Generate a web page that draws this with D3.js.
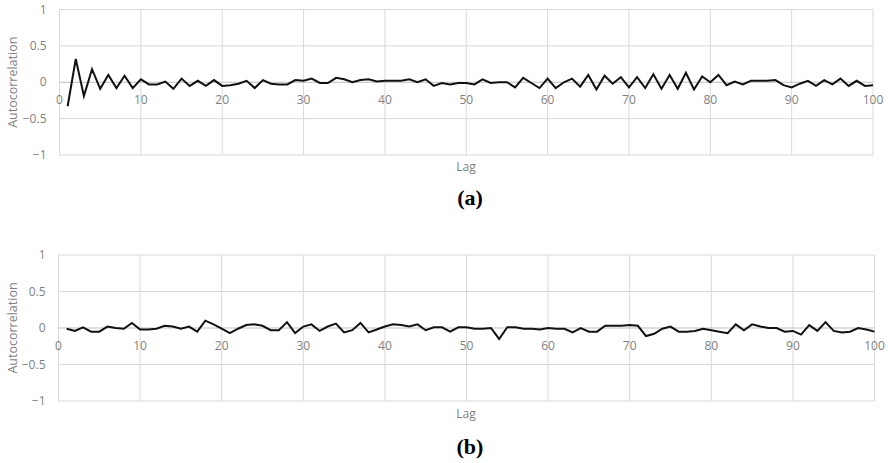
<!DOCTYPE html>
<html><head><meta charset="utf-8">
<script src="https://cdn.jsdelivr.net/npm/d3@7"></script>
<style>body{margin:0;background:#fff}svg{display:block}</style>
</head><body>
<svg id="c" width="888" height="463"></svg>
<script>
const lags = d3.range(1, 101);
const acfA = [-0.33,0.32,-0.19,0.18,-0.09,0.10,-0.08,0.09,-0.08,0.04,
 -0.03,-0.03,0.01,-0.09,0.05,-0.05,0.02,-0.05,0.03,-0.05,
 -0.04,-0.02,0.02,-0.08,0.03,-0.02,-0.03,-0.03,0.03,0.02,
 0.05,-0.01,-0.01,0.06,0.04,0.00,0.03,0.04,0.01,0.02,
 0.02,0.02,0.04,0.00,0.04,-0.05,-0.01,-0.03,-0.01,-0.01,
 -0.03,0.04,-0.01,0.00,0.00,-0.07,0.06,-0.01,-0.08,0.05,
 -0.08,0.00,0.05,-0.06,0.10,-0.10,0.09,-0.02,0.07,-0.07,
 0.07,-0.08,0.11,-0.09,0.10,-0.09,0.13,-0.10,0.08,0.00,
 0.10,-0.04,0.01,-0.03,0.02,0.02,0.02,0.03,-0.04,-0.07,
 -0.02,0.02,-0.05,0.03,-0.03,0.05,-0.05,0.02,-0.05,-0.04];
const acfB = [-0.01,-0.04,0.01,-0.05,-0.05,0.02,0.00,-0.01,0.07,-0.02,
 -0.02,-0.01,0.03,0.02,-0.01,0.02,-0.05,0.10,0.05,-0.01,
 -0.07,-0.01,0.04,0.05,0.03,-0.03,-0.03,0.08,-0.07,0.02,
 0.05,-0.04,0.02,0.06,-0.06,-0.03,0.07,-0.06,-0.02,0.02,
 0.05,0.04,0.02,0.05,-0.03,0.01,0.01,-0.05,0.01,0.01,
 -0.01,-0.01,0.00,-0.15,0.01,0.01,-0.01,-0.01,-0.02,0.00,
 -0.01,-0.01,-0.06,0.00,-0.05,-0.05,0.03,0.03,0.03,0.04,
 0.03,-0.11,-0.08,-0.01,0.02,-0.05,-0.05,-0.04,-0.01,-0.03,
 -0.05,-0.07,0.05,-0.03,0.05,0.02,0.00,0.00,-0.05,-0.04,
 -0.09,0.04,-0.04,0.08,-0.04,-0.06,-0.05,0.00,-0.02,-0.05];
const xTicks = [0,10,20,30,40,50,60,70,80,90,100];
const yTicks = [-1,-0.5,0,0.5,1];
const panels = [
  {values: acfA, label: "(a)", x0: 59.5, x1: 873, yTop: 9.5, yBot: 155, lagDy: 12, labDy: 42},
  {values: acfB, label: "(b)", x0: 58.5, x1: 874.5, yTop: 255, yBot: 401, lagDy: 13, labDy: 45}
];

const svg = d3.select("#c");
const font = "'Open Sans', sans-serif";

panels.forEach(p => {
  const x = d3.scaleLinear().domain([0,100]).range([p.x0, p.x1]);
  const y = d3.scaleLinear().domain([-1,1]).range([p.yBot, p.yTop]);
  const g = svg.append("g");
  g.selectAll(".vg").data(xTicks).join("line")
    .attr("x1", d => x(d)).attr("x2", d => x(d))
    .attr("y1", p.yTop).attr("y2", p.yBot)
    .attr("stroke", "#d9d9d9").attr("stroke-width", 1);
  g.selectAll(".hg").data(yTicks).join("line")
    .attr("x1", p.x0).attr("x2", p.x1)
    .attr("y1", d => y(d)).attr("y2", d => y(d))
    .attr("stroke", d => d === 0 ? "#bfbfbf" : "#d9d9d9").attr("stroke-width", 1);
  g.selectAll(".yl").data(yTicks).join("text")
    .attr("x", p.x0 - 13).attr("y", d => y(d)).attr("dy", "0.35em")
    .attr("text-anchor", "end").attr("font-family", font).attr("font-size", 12)
    .attr("fill", "#7f7f7f").text(d => d3.format("")(d));
  g.selectAll(".xl").data(xTicks).join("text")
    .attr("x", d => x(d)).attr("y", y(0) + 18).attr("dy", "0.35em")
    .attr("text-anchor", "middle").attr("font-family", font).attr("font-size", 12)
    .attr("fill", "#7f7f7f").text(d => d);
  const line = d3.line().x((d,i) => x(lags[i])).y(d => y(d));
  g.append("path").datum(p.values).attr("d", line)
    .attr("fill", "none").attr("stroke", "#111").attr("stroke-width", 2)
    .attr("stroke-linejoin", "miter");
  g.append("text").attr("transform", `translate(13,${(p.yTop+p.yBot)/2}) rotate(-90)`)
    .attr("text-anchor", "middle").attr("dy", "0.35em")
    .attr("font-family", font).attr("font-size", 12.5).attr("fill", "#7f7f7f")
    .text("Autocorrelation");
  g.append("text").attr("x", 466).attr("y", p.yBot + p.lagDy).attr("dy", "0.35em")
    .attr("text-anchor", "middle").attr("font-family", font).attr("font-size", 12)
    .attr("fill", "#7f7f7f").text("Lag");
  g.append("text").attr("x", 470).attr("y", p.yBot + p.labDy).attr("dy", "0.35em")
    .attr("text-anchor", "middle").attr("font-family", "'Liberation Serif', 'Times New Roman', serif")
    .attr("font-weight", "bold").attr("font-size", 22).attr("fill", "#000")
    .text(p.label);
});
</script>
</body></html>
